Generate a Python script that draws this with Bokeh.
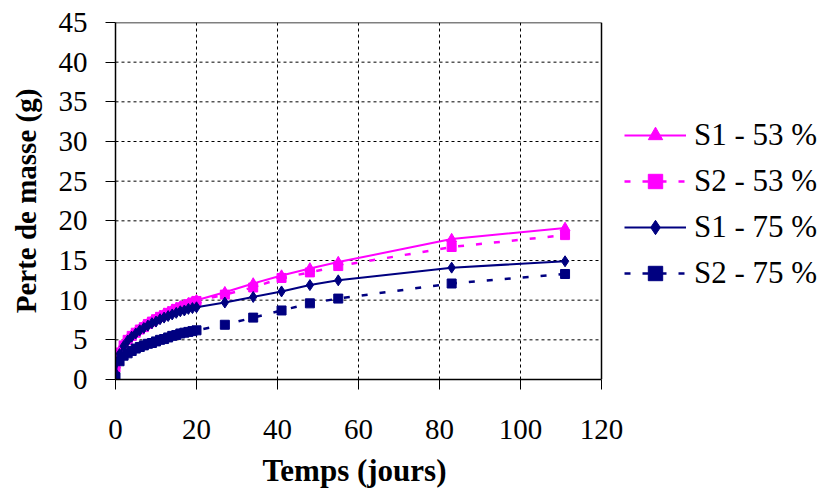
from bokeh.plotting import figure
from bokeh.models import Legend, LegendItem, FixedTicker, Range1d, Title
from bokeh.embed import file_html
from bokeh.resources import INLINE

# Time (days)
days = [0, 1, 2, 3, 4, 5, 6, 7, 8, 9, 10, 11, 12, 13, 14, 15, 16, 17, 18, 19, 20,
        27, 34, 41, 48, 55, 83, 111]

s1_53 = [1.8, 3.6, 4.5, 5.1, 5.6, 6.0, 6.4, 6.8, 7.1, 7.4, 7.7, 8.0, 8.3, 8.5, 8.8, 9.0, 9.2, 9.4, 9.6, 9.8, 10.0,
         11.0, 12.1, 13.1, 14.0, 14.8, 17.7, 19.1]
s2_53 = [1.5, 3.4, 4.3, 5.0, 5.5, 5.9, 6.3, 6.6, 7.0, 7.3, 7.6, 7.9, 8.1, 8.4, 8.6, 8.9, 9.1, 9.3, 9.5, 9.7, 9.9,
         10.7, 11.6, 12.8, 13.5, 14.3, 16.7, 18.2]
s1_75 = [0.8, 3.2, 4.2, 4.9, 5.4, 5.8, 6.2, 6.5, 6.8, 7.1, 7.3, 7.6, 7.8, 8.0, 8.2, 8.4, 8.6, 8.7, 8.9, 9.0, 9.1,
         9.7, 10.4, 11.1, 11.9, 12.5, 14.1, 14.9]
s2_75 = [0.3, 2.3, 3.0, 3.3, 3.6, 3.9, 4.1, 4.3, 4.5, 4.6, 4.8, 5.0, 5.1, 5.3, 5.5, 5.6, 5.8, 5.9, 6.0, 6.1, 6.2,
         6.9, 7.8, 8.7, 9.6, 10.2, 12.1, 13.3]

x_ticks = [0, 20, 40, 60, 80, 100, 120]
y_ticks = [0, 5, 10, 15, 20, 25, 30, 35, 40, 45]

labels = ["S1 - 53 %", "S2 - 53 %", "S1 - 75 %", "S2 - 75 %"]
x_title = "Temps (jours)"
y_title = "Perte de masse (g)"

MAG = "#FF00FF"
NAVY = "#000080"
FONT = "Liberation Serif"

# layout: the axes box (0..120) occupies 486 px; the frame extends to the right to host the legend
LEFT, TOP, BOTTOM = 115, 22, 120
BOX_W = 486
FRAME_W = 830 - LEFT
x_min, x_max = x_ticks[0], x_ticks[-1]
y_min, y_max = y_ticks[0], y_ticks[-1]
x_end = x_max * FRAME_W / BOX_W

p = figure(width=830, height=499, output_backend="svg", toolbar_location=None,
           x_range=Range1d(x_min, x_end), y_range=Range1d(y_min, y_max),
           min_border_left=LEFT, min_border_right=0, min_border_top=TOP, min_border_bottom=BOTTOM)
p.outline_line_color = None
p.background_fill_color = "white"
p.border_fill_color = "white"
p.xgrid.visible = False
p.ygrid.visible = False

for ax, ticks in ((p.xaxis[0], x_ticks), (p.yaxis[0], y_ticks)):
    ax.ticker = FixedTicker(ticks=ticks)
    ax.major_label_text_font = FONT
    ax.major_label_text_font_size = "29px"
    ax.major_label_text_color = "black"
    ax.axis_label_text_font = FONT
    ax.axis_label_text_font_size = "29px"
    ax.axis_label_text_font_style = "bold"
    ax.axis_label_text_color = "black"
    ax.axis_line_color = "black"
    ax.axis_line_width = 1.5
    ax.major_tick_line_color = "black"
    ax.major_tick_out = 10
    ax.major_tick_in = 0
    ax.minor_tick_line_color = None

p.xaxis.bounds = (x_min, x_max)
p.yaxis.axis_label = y_title
p.xaxis.major_label_standoff = 30
p.yaxis.major_label_standoff = 18
p.yaxis.axis_label_standoff = 14

# x-axis title centred under the axes box (not under the whole frame)
xt = Title(text=x_title, align="left", offset=147, standoff=18,
           text_font=FONT, text_font_size="31px", text_font_style="bold", text_color="black")
p.add_layout(xt, "below")

# dashed grid inside the axes box
gx = x_ticks[1:-1]
gy = y_ticks[1:-1]
p.segment(x0=gx, y0=[y_min] * len(gx), x1=gx, y1=[y_max] * len(gx),
          line_color="black", line_dash="3 3", line_width=1)
p.segment(x0=[x_min] * len(gy), y0=gy, x1=[x_max] * len(gy), y1=gy,
          line_color="black", line_dash="3 3", line_width=1)
# top and right border of the axes box
p.segment(x0=[x_min, x_max], y0=[y_max, y_min], x1=[x_max, x_max], y1=[y_max, y_max],
          line_color="black", line_width=1.5)

l1 = p.line(days, s1_53, color=MAG, line_width=2)
m1 = p.scatter(days, s1_53, marker="triangle", size=10, color=MAG)
l2 = p.line(days, s2_53, color=MAG, line_width=2.5, line_dash="6 12")
m2 = p.scatter(days, s2_53, marker="square", size=9, color=MAG)
l3 = p.line(days, s1_75, color=NAVY, line_width=2)
m3 = p.scatter(days, s1_75, marker="diamond", size=11, color=NAVY)
l4 = p.line(days, s2_75, color=NAVY, line_width=2.5, line_dash="6 12")
m4 = p.scatter(days, s2_75, marker="square", size=9, color=NAVY)

legend = Legend(items=[
    LegendItem(label=labels[0], renderers=[l1, m1]),
    LegendItem(label=labels[1], renderers=[l2, m2]),
    LegendItem(label=labels[2], renderers=[l3, m3]),
    LegendItem(label=labels[3], renderers=[l4, m4]),
], location=(509, 88))
legend.label_text_font = FONT
legend.label_text_font_size = "31px"
legend.label_text_color = "black"
legend.glyph_width = 62
legend.glyph_height = 36
legend.label_height = 36
legend.spacing = 10
legend.label_standoff = 8
legend.padding = 0
legend.margin = 0
legend.border_line_color = None
legend.background_fill_alpha = 0
p.add_layout(legend)

open("out.html", "w").write(file_html(p, INLINE))
